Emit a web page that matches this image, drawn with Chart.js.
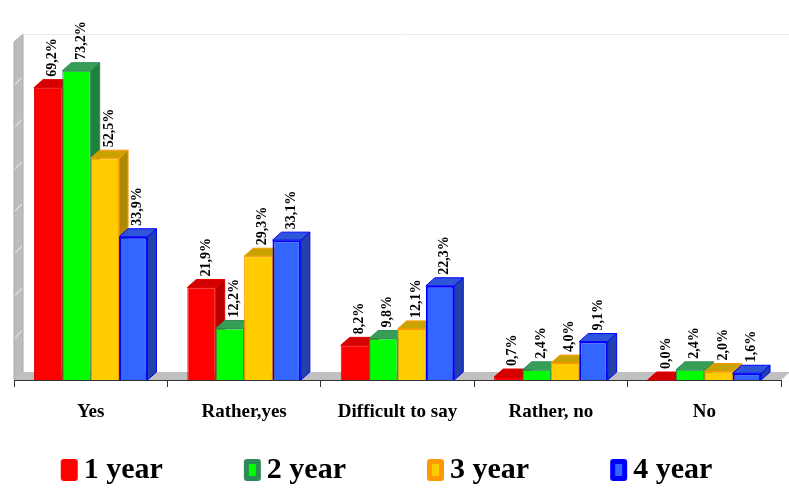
<!DOCTYPE html>
<html>
<head>
<meta charset="utf-8">
<script src="https://cdn.jsdelivr.net/npm/chart.js@4/dist/chart.umd.min.js"></script>
<style>
  html, body { margin: 0; padding: 0; background: #ffffff; }
  #wrap { width: 789px; height: 490px; }
</style>
</head>
<body>
<div id="wrap"><canvas id="chart" width="789" height="490"></canvas></div>
<script>
// Survey answers by year of study (percent of respondents in each year)
const categories = ['Yes', 'Rather,yes', 'Difficult to say', 'Rather, no', 'No'];
const seriesNames = ['1 year', '2 year', '3 year', '4 year'];
const year1 = [69.2, 21.9, 8.2, 0.7, 0.0];
const year2 = [73.2, 12.2, 9.8, 2.4, 2.4];
const year3 = [52.5, 29.3, 12.1, 4.0, 2.0];
const year4 = [33.9, 33.1, 22.3, 9.1, 1.6];
const yMax = 80;
const yStep = 10;

// Styling
const FONT = '"Liberation Serif", "Times New Roman", serif';
const frontColors = ['#FF0000', '#00FF00', '#FFCC00', '#3366FF'];
const edgeColors  = ['#E00000', '#2E8B57', '#FF9900', '#0000FF'];
const topColors   = ['#D40000', '#35A055', '#C9A200', '#2F55D8'];
const sideColors  = ['#B80000', '#1F8040', '#AE8A00', '#2242AA'];
const DX = 9, DY = 8;          // extrusion of the 3D boxes
const SLOT = 79;               // legend swatch slot width

function poly(ctx, pts, fill, stroke) {
  ctx.beginPath();
  ctx.moveTo(pts[0][0], pts[0][1]);
  for (let i = 1; i < pts.length; i++) ctx.lineTo(pts[i][0], pts[i][1]);
  ctx.closePath();
  if (fill) { ctx.fillStyle = fill; ctx.fill(); }
  if (stroke) { ctx.strokeStyle = stroke; ctx.lineWidth = 1; ctx.stroke(); }
}

// Legend swatch: rounded box at the right end of a transparent slot
function swatch(outer, inner) {
  const c = document.createElement('canvas');
  c.width = SLOT + 20; c.height = 24;
  const g = c.getContext('2d');
  const x = c.width - 18, y = 1, w = 17, h = 22, r = 3;
  g.beginPath();
  g.moveTo(x + r, y); g.lineTo(x + w - r, y); g.quadraticCurveTo(x + w, y, x + w, y + r);
  g.lineTo(x + w, y + h - r); g.quadraticCurveTo(x + w, y + h, x + w - r, y + h);
  g.lineTo(x + r, y + h); g.quadraticCurveTo(x, y + h, x, y + h - r);
  g.lineTo(x, y + r); g.quadraticCurveTo(x, y, x + r, y);
  g.fillStyle = outer; g.fill();
  if (inner) { g.fillStyle = inner; g.fillRect(x + 5, y + 5, w - 10, h - 10); }
  return c;
}
const swatches = [
  swatch('#FF0000', null),
  swatch('#2E8B57', '#00FF00'),
  swatch('#FF9900', '#FFCC00'),
  swatch('#0000FF', '#3366FF')
];

// Draws the floor, side wall and extruded bars in left-to-right order
const bars3d = {
  id: 'bars3d',
  beforeDatasetsDraw(chart) {
    const { ctx, chartArea: a, scales: { y } } = chart;
    ctx.save();
    // side wall
    poly(ctx, [[a.left, a.bottom], [a.left + DX, a.bottom - DY], [a.left + DX, a.top - DY], [a.left, a.top]], '#BDBDBD', '#A8A8A8');
    ctx.strokeStyle = '#F2F2F2';
    ctx.lineWidth = 1;
    y.ticks.forEach(t => {
      if (t.value <= 0 || t.value >= yMax) return;
      const py = y.getPixelForValue(t.value);
      ctx.beginPath(); ctx.moveTo(a.left + 1, py); ctx.lineTo(a.left + DX - 1, py - DY + 1); ctx.stroke();
    });
    // back top edge
    ctx.strokeStyle = '#EBEBEB';
    ctx.beginPath(); ctx.moveTo(a.left + DX, a.top - DY + 0.5); ctx.lineTo(a.right + DX, a.top - DY + 0.5); ctx.stroke();
    // floor
    poly(ctx, [[a.left, a.bottom], [a.left + DX, a.bottom - DY], [a.right + DX, a.bottom - DY], [a.right, a.bottom]], '#C0C0C0', null);
    // bars
    chart.data.datasets.forEach((ds, i) => {
      const meta = chart.getDatasetMeta(i);
      meta.data.forEach(el => {
        const p = el.getProps(['x', 'y', 'base', 'width'], true);
        const l = p.x - p.width / 2, r = p.x + p.width / 2;
        el.draw(ctx);
        poly(ctx, [[r, p.y], [r + DX, p.y - DY], [r + DX, p.base - DY], [r, p.base]], sideColors[i], edgeColors[i]);
        poly(ctx, [[l, p.y], [l + DX, p.y - DY], [r + DX, p.y - DY], [r, p.y]], topColors[i], edgeColors[i]);
      });
    });
    ctx.restore();
    return false;
  },
  afterDraw(chart) {
    const { ctx } = chart;
    ctx.save();
    ctx.font = 'bold 14px ' + FONT;
    ctx.fillStyle = '#000000';
    ctx.textAlign = 'left';
    ctx.textBaseline = 'middle';
    chart.data.datasets.forEach((ds, i) => {
      chart.getDatasetMeta(i).data.forEach((el, j) => {
        const p = el.getProps(['x', 'y'], true);
        const txt = ds.data[j].toFixed(1).replace('.', ',') + '%';
        ctx.save();
        ctx.translate(p.x + DX / 2, p.y - DY - 3);
        ctx.rotate(-Math.PI / 2);
        ctx.fillText(txt, 0, 0);
        ctx.restore();
      });
    });
    ctx.restore();
  }
};

const seriesValues = [year1, year2, year3, year4];

new Chart(document.getElementById('chart'), {
  type: 'bar',
  data: {
    labels: categories,
    datasets: seriesNames.map((name, i) => ({
      label: name,
      data: seriesValues[i],
      backgroundColor: frontColors[i],
      borderColor: edgeColors[i],
      borderWidth: i === 3 ? 2 : 1,
      categoryPercentage: 0.74,
      barPercentage: 1.0
    }))
  },
  options: {
    responsive: false,
    animation: false,
    layout: { padding: { left: -SLOT, right: 8, top: 42, bottom: -5 } },
    scales: {
      x: {
        grid: { display: true, drawOnChartArea: false, drawTicks: true, tickLength: 7, color: '#333333', offset: true },
        border: { display: true, color: '#333333', width: 1 },
        ticks: {
          color: '#000000',
          font: { family: FONT, size: 19, weight: 'bold' },
          padding: 14,
          maxRotation: 0,
          autoSkip: false
        },
        afterFit: s => { s.height = 65; }
      },
      y: {
        min: 0,
        max: yMax,
        ticks: { display: false, stepSize: yStep },
        grid: { display: false },
        border: { display: false },
        afterFit: s => { s.width = SLOT + 14; }
      }
    },
    plugins: {
      tooltip: { enabled: false },
      legend: {
        position: 'bottom',
        align: 'center',
        labels: {
          usePointStyle: true,
          pointStyleWidth: SLOT,
          padding: 10,
          color: '#000000',
          font: { family: FONT, size: 30, weight: 'bold' },
          generateLabels: chart => chart.data.datasets.map((ds, i) => ({
            text: ds.label,
            datasetIndex: i,
            pointStyle: swatches[i],
            fillStyle: frontColors[i],
            strokeStyle: edgeColors[i],
            lineWidth: 0,
            hidden: false,
            fontColor: '#000000'
          }))
        }
      }
    }
  },
  plugins: [bars3d]
});
</script>
</body>
</html>
